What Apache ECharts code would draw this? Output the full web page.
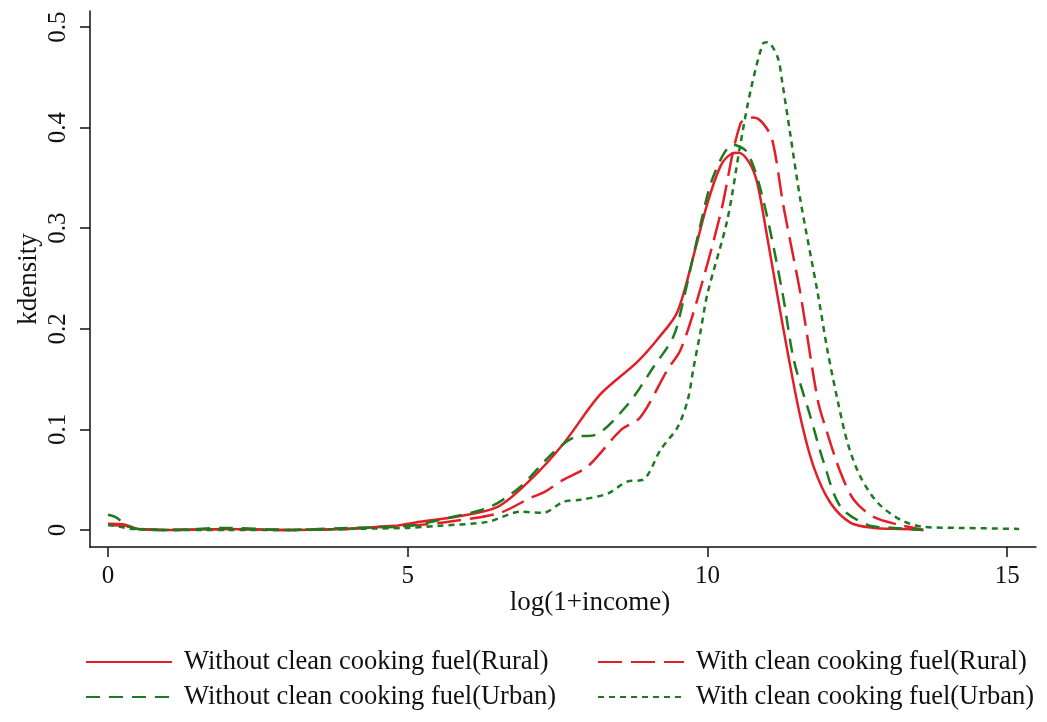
<!DOCTYPE html>
<html>
<head>
<meta charset="utf-8">
<title>kdensity log(1+income)</title>
<script src="https://cdn.jsdelivr.net/npm/echarts@6/dist/echarts.min.js"></script>
<style>
html, body { margin: 0; padding: 0; background: #fff; }
#kdensityChart { width: 1047px; height: 722px; }
</style>
</head>
<body>
<div id="kdensityChart"></div>
<script>
// 图例名称
var seriesNames = [
	'Without clean cooking fuel(Rural)',
	'With clean cooking fuel(Rural)',
	'Without clean cooking fuel(Urban)',
	'With clean cooking fuel(Urban)'
];
var xTicks = [0, 5, 10, 15];
var yTicks = [0, 0.1, 0.2, 0.3, 0.4, 0.5];

// Without clean cooking fuel(Rural) - 实线红
var ruralWithoutX = [0, 0.3, 0.5, 1, 2, 3, 4, 4.5, 4.8, 5.2, 5.8, 6.5, 7.05, 7.6, 8.2, 8.83, 9.2, 9.5, 9.8, 10.0, 10.22, 10.4, 10.52, 10.7, 10.83, 11.0, 11.17, 11.33, 11.55, 11.77, 12.05, 12.39, 12.77, 13.2, 13.6];
var ruralWithoutY = [0.006, 0.005, 0.001, 0, 0.001, 0, 0.001, 0.003, 0.004, 0.008, 0.013, 0.023, 0.05, 0.086, 0.134, 0.167, 0.192, 0.217, 0.28, 0.325, 0.362, 0.374, 0.375, 0.365, 0.345, 0.29, 0.232, 0.179, 0.112, 0.063, 0.027, 0.007, 0.002, 0.001, 0];

// With clean cooking fuel(Rural) - 长虚线红
var ruralWithX = [0, 0.3, 0.5, 1, 2, 3, 4, 4.7, 5.2, 5.8, 6.54, 7.05, 7.26, 7.6, 8.0, 8.55, 8.88, 9.33, 9.55, 9.83, 10.22, 10.55, 10.77, 10.93, 11.08, 11.27, 11.55, 11.84, 12.0, 12.22, 12.44, 12.77, 13.2, 13.6];
var ruralWithY = [0.005, 0.004, 0.001, 0, 0.001, 0, 0.001, 0.004, 0.005, 0.009, 0.017, 0.032, 0.037, 0.05, 0.063, 0.099, 0.112, 0.159, 0.179, 0.229, 0.315, 0.404, 0.41, 0.404, 0.388, 0.321, 0.235, 0.129, 0.096, 0.057, 0.03, 0.013, 0.005, 0];

// Without clean cooking fuel(Urban) - 虚线绿
var urbanWithoutX = [0, 0.15, 0.3, 0.5, 1, 2, 3, 4, 5, 5.76, 6.38, 6.88, 7.43, 7.83, 8.1, 8.66, 9.1, 9.43, 9.6, 9.85, 10.1, 10.43, 10.67, 10.93, 11.25, 11.44, 11.72, 11.94, 12.22, 12.67, 13.1, 13.6];
var urbanWithoutY = [0.015, 0.012, 0.004, 0.001, 0, 0.002, 0, 0.002, 0.004, 0.013, 0.023, 0.043, 0.077, 0.093, 0.094, 0.124, 0.162, 0.192, 0.229, 0.295, 0.352, 0.383, 0.375, 0.328, 0.236, 0.169, 0.112, 0.067, 0.023, 0.005, 0.002, 0];

// With clean cooking fuel(Urban) - 点线绿
var urbanWithX = [0, 0.2, 0.4, 1, 2, 3, 4, 5, 5.5, 6.33, 6.88, 7.26, 7.6, 7.88, 8.33, 8.66, 8.93, 9.22, 9.5, 9.67, 9.77, 9.88, 10.0, 10.33, 10.55, 10.72, 10.93, 11.0, 11.17, 11.25, 11.38, 11.55, 11.84, 12.0, 12.17, 12.34, 12.55, 12.84, 13.22, 13.6, 14.2, 15.2];
var urbanWithY = [0.005, 0.003, 0.001, 0, 0, 0, 0.001, 0.002, 0.004, 0.008, 0.018, 0.017, 0.028, 0.03, 0.036, 0.048, 0.05, 0.08, 0.102, 0.129, 0.162, 0.196, 0.235, 0.308, 0.384, 0.437, 0.484, 0.485, 0.47, 0.444, 0.394, 0.328, 0.235, 0.179, 0.129, 0.086, 0.053, 0.027, 0.01, 0.003, 0.002, 0.001];

var red = '#e41e26';
var green = '#1c7a1f';
var serif = 'Liberation Serif';

function pairs(xs, ys){
	var arr = [];
	for(var i=0;i<xs.length;i++){
		arr.push([xs[i], ys[i]]);
	}
	return arr;
}

function makeSeries(name, xs, ys, color, dash){
	return {
		name: name,
		type: 'line',
		symbol: 'none',
		smooth: 0.3,
		animation: false,
		lineStyle: { color: color, width: 2.5, type: dash },
		itemStyle: { color: color },
		data: pairs(xs, ys)
	};
}

function makeLegend(name, left, top){
	return {
		data: [name],
		left: left,
		top: top,
		padding: 0,
		itemWidth: 86,
		itemHeight: 14,
		selectedMode: false,
		itemStyle: { color: 'rgba(0,0,0,0)', borderWidth: 0 },  //去掉图例上的圆点
		textStyle: {
			fontFamily: serif,
			fontSize: 26.5,
			color: '#111',
			lineHeight: 30,
			padding: [0, 0, 0, 7]
		}
	};
}

var charts = echarts.init(document.getElementById('kdensityChart'));
var option = {
	backgroundColor: '#fff',
	animation: false,
	grid: {
		left: 90,
		right: 11,
		top: 11,
		bottom: 175
	},
	legend: [
		makeLegend(seriesNames[0], 85, 647),
		makeLegend(seriesNames[1], 597, 647),
		makeLegend(seriesNames[2], 85, 682),
		makeLegend(seriesNames[3], 597, 682)
	],
	xAxis: {
		type: 'value',
		min: -0.3,
		max: 15.48,
		splitLine: { show: false },
		axisLine: { onZero: false, lineStyle: { color: '#111', width: 1.5 } },
		axisTick: { customValues: xTicks, length: 10, lineStyle: { color: '#111', width: 1.5 } },
		axisLabel: {
			customValues: xTicks,
			margin: 17,
			fontFamily: serif,
			fontSize: 25,
			color: '#111'
		}
	},
	yAxis: {
		type: 'value',
		min: -0.017,
		max: 0.516,
		splitLine: { show: false },
		axisLine: { show: true, onZero: false, lineStyle: { color: '#111', width: 1.5 } },
		axisTick: { show: true, customValues: yTicks, length: 10, lineStyle: { color: '#111', width: 1.5 } },
		axisLabel: {
			customValues: yTicks,
			rotate: 90,
			margin: 19,
			fontFamily: serif,
			fontSize: 25,
			color: '#111'
		}
	},
	graphic: [
		{
			type: 'text',
			x: 590,
			y: 603,
			style: {
				text: 'log(1+income)',
				fontFamily: serif,
				fontSize: 27,
				fill: '#111',
				textAlign: 'center',
				textVerticalAlign: 'middle'
			}
		},
		{
			type: 'text',
			x: 29,
			y: 279,
			rotation: Math.PI / 2,
			style: {
				text: 'kdensity',
				fontFamily: serif,
				fontSize: 27,
				fill: '#111',
				textAlign: 'center',
				textVerticalAlign: 'middle'
			}
		}
	],
	series: [
		makeSeries(seriesNames[0], ruralWithoutX, ruralWithoutY, red, 'solid'),
		makeSeries(seriesNames[1], ruralWithX, ruralWithY, red, [24, 9]),
		makeSeries(seriesNames[2], urbanWithoutX, urbanWithoutY, green, [14, 9]),
		makeSeries(seriesNames[3], urbanWithX, urbanWithY, green, [6, 5])
	]
};
charts.setOption(option);
</script>
</body>
</html>
